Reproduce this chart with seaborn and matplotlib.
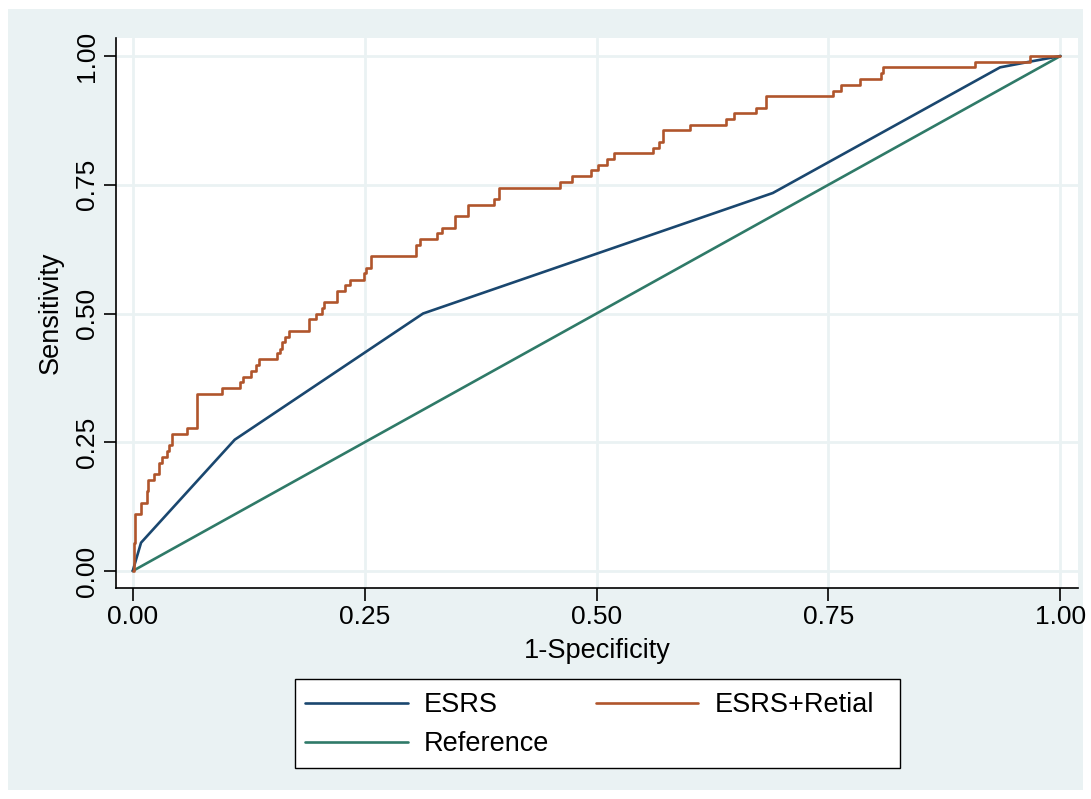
import matplotlib
matplotlib.use("Agg")
import matplotlib.pyplot as plt
import matplotlib.patches as mpatches
import numpy as np
import pandas as pd
import seaborn as sns

# ROC points
esrs_fpr = [0.0, 0.009, 0.110, 0.313, 0.690, 0.935, 0.967, 1.0]
esrs_tpr = [0.0, 0.055, 0.255, 0.500, 0.734, 0.978, 0.989, 1.0]

retial_fpr = [0.000, 0.001, 0.003, 0.009, 0.015, 0.017, 0.023, 0.028, 0.032, 0.037,
              0.039, 0.042, 0.058, 0.069, 0.096, 0.116, 0.119, 0.127, 0.133, 0.136,
              0.156, 0.159, 0.161, 0.164, 0.169, 0.190, 0.198, 0.204, 0.206, 0.220,
              0.229, 0.234, 0.249, 0.251, 0.257, 0.305, 0.310, 0.328, 0.333, 0.347,
              0.361, 0.390, 0.395, 0.461, 0.474, 0.494, 0.502, 0.511, 0.519, 0.561,
              0.567, 0.572, 0.601, 0.640, 0.648, 0.672, 0.683, 0.755, 0.764, 0.784,
              0.807, 0.809, 0.908, 0.967, 1.000]
retial_tpr = [0.000, 0.055, 0.111, 0.133, 0.155, 0.177, 0.188, 0.210, 0.221, 0.233,
              0.244, 0.267, 0.278, 0.344, 0.356, 0.367, 0.377, 0.388, 0.400, 0.411,
              0.423, 0.432, 0.444, 0.455, 0.467, 0.489, 0.500, 0.511, 0.523, 0.544,
              0.555, 0.566, 0.578, 0.589, 0.611, 0.633, 0.644, 0.656, 0.667, 0.689,
              0.711, 0.722, 0.744, 0.756, 0.767, 0.778, 0.789, 0.800, 0.811, 0.822,
              0.833, 0.856, 0.867, 0.878, 0.889, 0.900, 0.922, 0.933, 0.944, 0.956,
              0.967, 0.978, 0.989, 1.000, 1.000]

ref_x = [0.0, 1.0]
ref_y = [0.0, 1.0]

ticks = [0.0, 0.25, 0.5, 0.75, 1.0]
tick_labels = ["0.00", "0.25", "0.50", "0.75", "1.00"]

C_ESRS = "#1a476f"
C_RET = "#b0552c"
C_REF = "#2f7a68"
PANEL = "#eaf2f3"

sns.set_style("white")
plt.rcParams["font.family"] = ["Liberation Sans", "DejaVu Sans"]
plt.rcParams.update({"text.color": "black", "axes.labelcolor": "black",
                     "xtick.color": "black", "ytick.color": "black"})

W, H = 1091, 799
fig = plt.figure(figsize=(W / 100, H / 100), dpi=100, facecolor="white")
fig.patches.append(mpatches.Rectangle((8 / W, 9 / H), 1075 / W, 781 / H,
                                      transform=fig.transFigure, facecolor=PANEL,
                                      edgecolor="none", zorder=-10))
ax = fig.add_axes([116 / W, 1 - 588 / H, 962 / W, 550 / H])
ax.set_facecolor("white")

df_esrs = pd.DataFrame({"fpr": esrs_fpr, "tpr": esrs_tpr})
df_ret = pd.DataFrame({"fpr": retial_fpr, "tpr": retial_tpr})
df_ref = pd.DataFrame({"fpr": ref_x, "tpr": ref_y})

sns.lineplot(data=df_esrs, x="fpr", y="tpr", color=C_ESRS, lw=1.9, sort=False,
             estimator=None, ax=ax, label="ESRS", zorder=4)
sns.lineplot(data=df_ref, x="fpr", y="tpr", color=C_REF, lw=1.9, sort=False,
             estimator=None, ax=ax, label="Reference", zorder=3)
sns.lineplot(data=df_ret, x="fpr", y="tpr", color=C_RET, lw=1.9, sort=False,
             estimator=None, drawstyle="steps-post", ax=ax, label="ESRS+Retial", zorder=5)

ax.set_xlim(-0.018, 1.019)
ax.set_ylim(-0.033, 1.035)
ax.set_xticks(ticks)
ax.set_xticklabels(tick_labels, fontsize=19)
ax.set_yticks(ticks)
ax.set_yticklabels(tick_labels, fontsize=19, rotation=90, va="center")
ax.grid(True, color=PANEL, lw=2)
ax.set_axisbelow(True)
ax.tick_params(direction="out", length=9, width=1.2, color="black", pad=3,
               left=True, bottom=True)

for s in ["top", "right"]:
    ax.spines[s].set_visible(False)
for s in ["left", "bottom"]:
    ax.spines[s].set_color("black")
    ax.spines[s].set_linewidth(1.2)

ax.set_xlabel("1-Specificity", fontsize=19.5, labelpad=7)
ax.set_ylabel("Sensitivity", fontsize=19.5, labelpad=8)

# legend box drawn separately, entries placed inside it
ax.get_legend().remove()
fig.patches.append(mpatches.Rectangle((295 / W, 1 - 768 / H), 605 / W, 89 / H,
                                      transform=fig.transFigure, facecolor="white",
                                      edgecolor="black", lw=1.0, zorder=-5))
h, l = ax.get_legend_handles_labels()
order = [l.index("ESRS"), l.index("Reference"), l.index("ESRS+Retial")]
leg = fig.legend([h[i] for i in order], [l[i] for i in order], ncol=2,
                 loc="upper left", bbox_to_anchor=(305 / W, 1 - 692 / H),
                 fontsize=19.5, frameon=False, handlelength=3.8,
                 handletextpad=0.6, borderpad=0, borderaxespad=0,
                 labelspacing=0.49, columnspacing=1.7)

fig.savefig("out.png", dpi=100, facecolor="white")
